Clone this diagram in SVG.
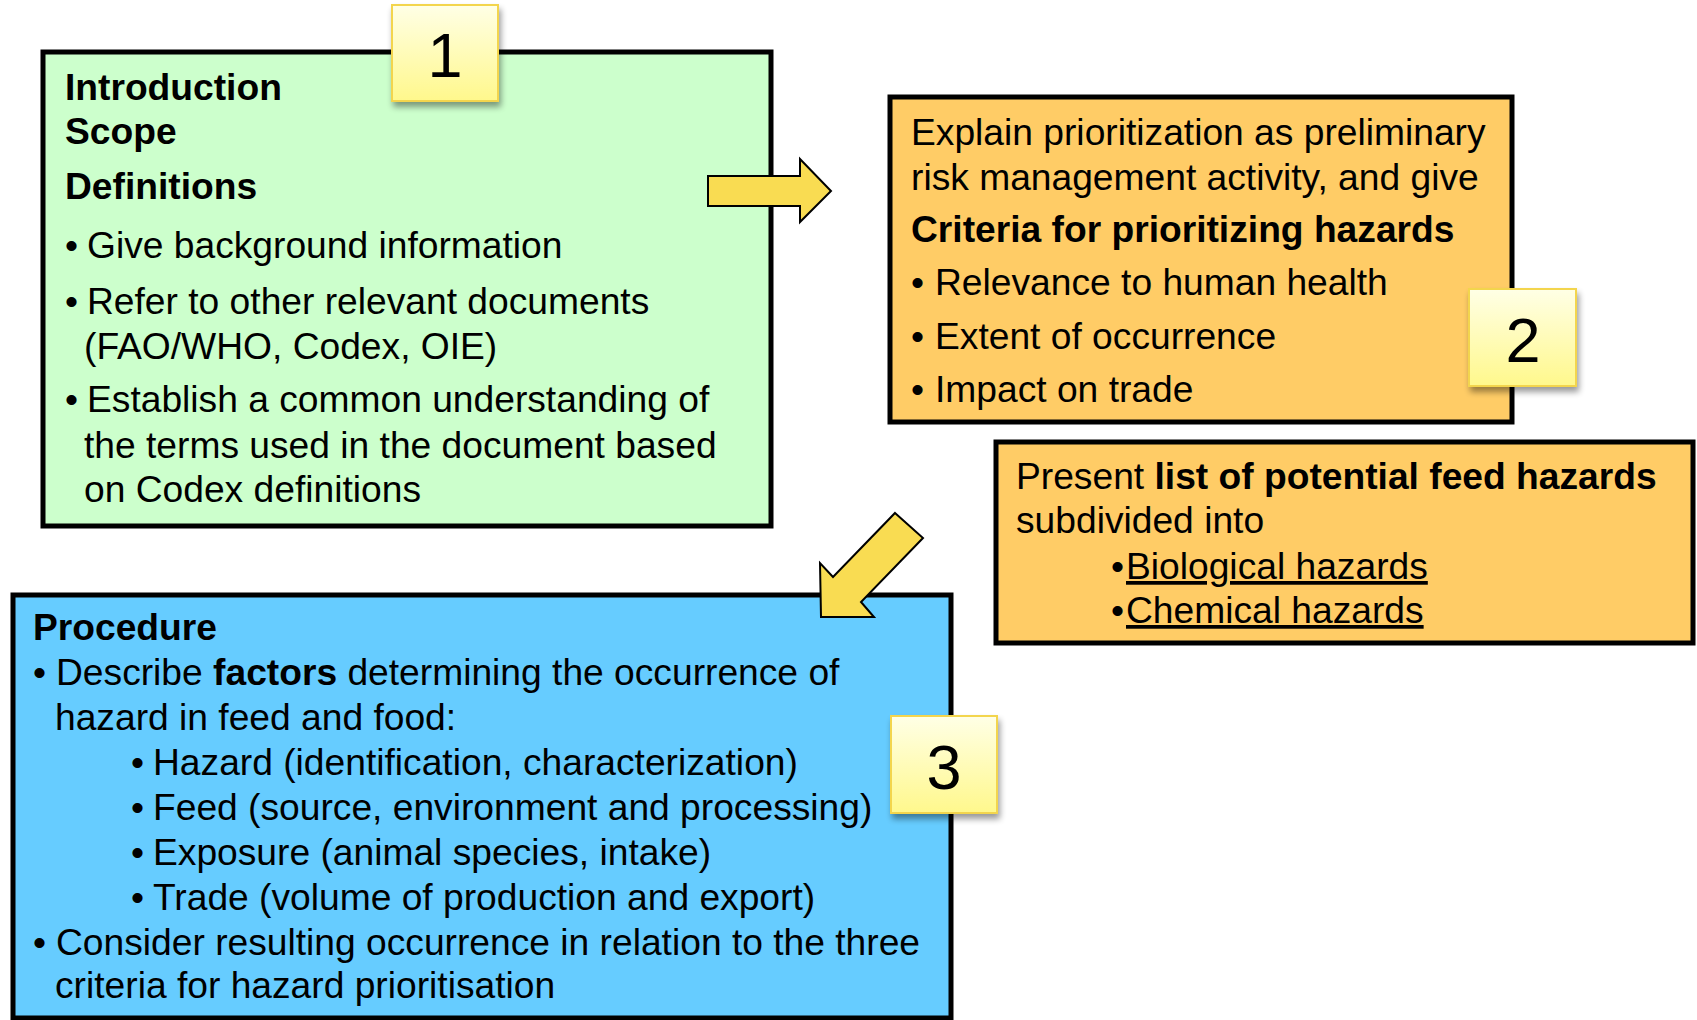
<svg xmlns="http://www.w3.org/2000/svg" width="1697" height="1020" viewBox="0 0 1697 1020">
  <defs>
    <linearGradient id="lblGrad" x1="0" y1="0" x2="0" y2="1">
      <stop offset="0" stop-color="#FFFFE6"/>
      <stop offset="1" stop-color="#FFF88C"/>
    </linearGradient>
    <filter id="shadow" x="-20%" y="-20%" width="150%" height="150%">
      <feGaussianBlur in="SourceAlpha" stdDeviation="3"/>
      <feOffset dx="2" dy="5" result="b"/>
      <feComponentTransfer><feFuncA type="linear" slope="0.4"/></feComponentTransfer>
      <feMerge><feMergeNode/><feMergeNode in="SourceGraphic"/></feMerge>
    </filter>
  </defs>
  <style>
    text { font-family: "Liberation Sans", Arial, sans-serif; font-size: 37.2px; fill: #000; }
    .b { font-weight: bold; }
    .box { stroke: #000; stroke-width: 5; }
    .green { fill: #CCFFCC; }
    .orange { fill: #FFCC66; }
    .blue { fill: #66CCFF; }
    .lbl { fill: url(#lblGrad); stroke: #F3D54E; stroke-width: 2; filter: url(#shadow); }
    .num { font-size: 63px; text-anchor: middle; }
    .arrow { fill: #F9DC52; stroke: #000; stroke-width: 2; stroke-linejoin: miter; }
    .u { text-decoration: underline; }
  </style>
  <rect width="1697" height="1020" fill="#FFFFFF"/>

  <g id="node-intro">
    <rect class="box green" x="43" y="52" width="728" height="474"/>
    <text class="b" x="65" y="100">Introduction</text>
    <text class="b" x="65" y="144">Scope</text>
    <text class="b" x="65" y="199">Definitions</text>
    <text x="65" y="258">•</text><text x="87" y="258">Give background information</text>
    <text x="65" y="314">•</text><text x="87" y="314">Refer to other relevant documents</text>
    <text x="84" y="359">(FAO/WHO, Codex, OIE)</text>
    <text x="65" y="412">•</text><text x="87" y="412">Establish a common understanding of</text>
    <text x="84" y="458">the terms used in the document based</text>
    <text x="84" y="502">on Codex definitions</text>
  </g>

  <g id="node-criteria">
    <rect class="box orange" x="890" y="97" width="622" height="325"/>
    <text x="911" y="145">Explain prioritization as preliminary</text>
    <text x="911" y="190">risk management activity, and give</text>
    <text class="b" x="911" y="242">Criteria for prioritizing hazards</text>
    <text x="911" y="295">•</text><text x="935" y="295">Relevance to human health</text>
    <text x="911" y="349">•</text><text x="935" y="349">Extent of occurrence</text>
    <text x="911" y="402">•</text><text x="935" y="402">Impact on trade</text>
  </g>

  <g id="node-hazards">
    <rect class="box orange" x="996" y="442" width="697" height="201"/>
    <text x="1016" y="489">Present <tspan class="b">list of potential feed hazards</tspan></text>
    <text x="1016" y="533">subdivided into</text>
    <text x="1111" y="579">•</text><text class="u" x="1126" y="579">Biological hazards</text>
    <text x="1111" y="623">•</text><text class="u" x="1126" y="623">Chemical hazards</text>
  </g>

  <g id="node-procedure">
    <rect class="box blue" x="13" y="595" width="938" height="423"/>
    <text class="b" x="33" y="640">Procedure</text>
    <text x="33" y="685">•</text><text x="56" y="685">Describe <tspan class="b">factors</tspan> determining the occurrence of</text>
    <text x="55" y="730">hazard in feed and food:</text>
    <text x="131" y="775">•</text><text x="153" y="775">Hazard (identification, characterization)</text>
    <text x="131" y="820">•</text><text x="153" y="820">Feed (source, environment and processing)</text>
    <text x="131" y="865">•</text><text x="153" y="865">Exposure (animal species, intake)</text>
    <text x="131" y="910">•</text><text x="153" y="910">Trade (volume of production and export)</text>
    <text x="33" y="955">•</text><text x="56" y="955">Consider resulting occurrence in relation to the three</text>
    <text x="55" y="998">criteria for hazard prioritisation</text>
  </g>

  <g id="connectors">
    <polygon class="arrow" points="708,176 800,176 800,159 831,191 800,222 800,206 708,206"/>
    <polygon class="arrow" points="895,513 923,538 861,602 874,617 821,617 820,563 833,577"/>
  </g>

  <g id="label-1">
    <rect class="lbl" x="392" y="5" width="106" height="96"/>
    <text class="num" x="445" y="77">1</text>
  </g>
  <g id="label-2">
    <rect class="lbl" x="1469" y="289" width="107" height="97"/>
    <text class="num" x="1523" y="362">2</text>
  </g>
  <g id="label-3">
    <rect class="lbl" x="891" y="716" width="106" height="97"/>
    <text class="num" x="944" y="789">3</text>
  </g>
</svg>
